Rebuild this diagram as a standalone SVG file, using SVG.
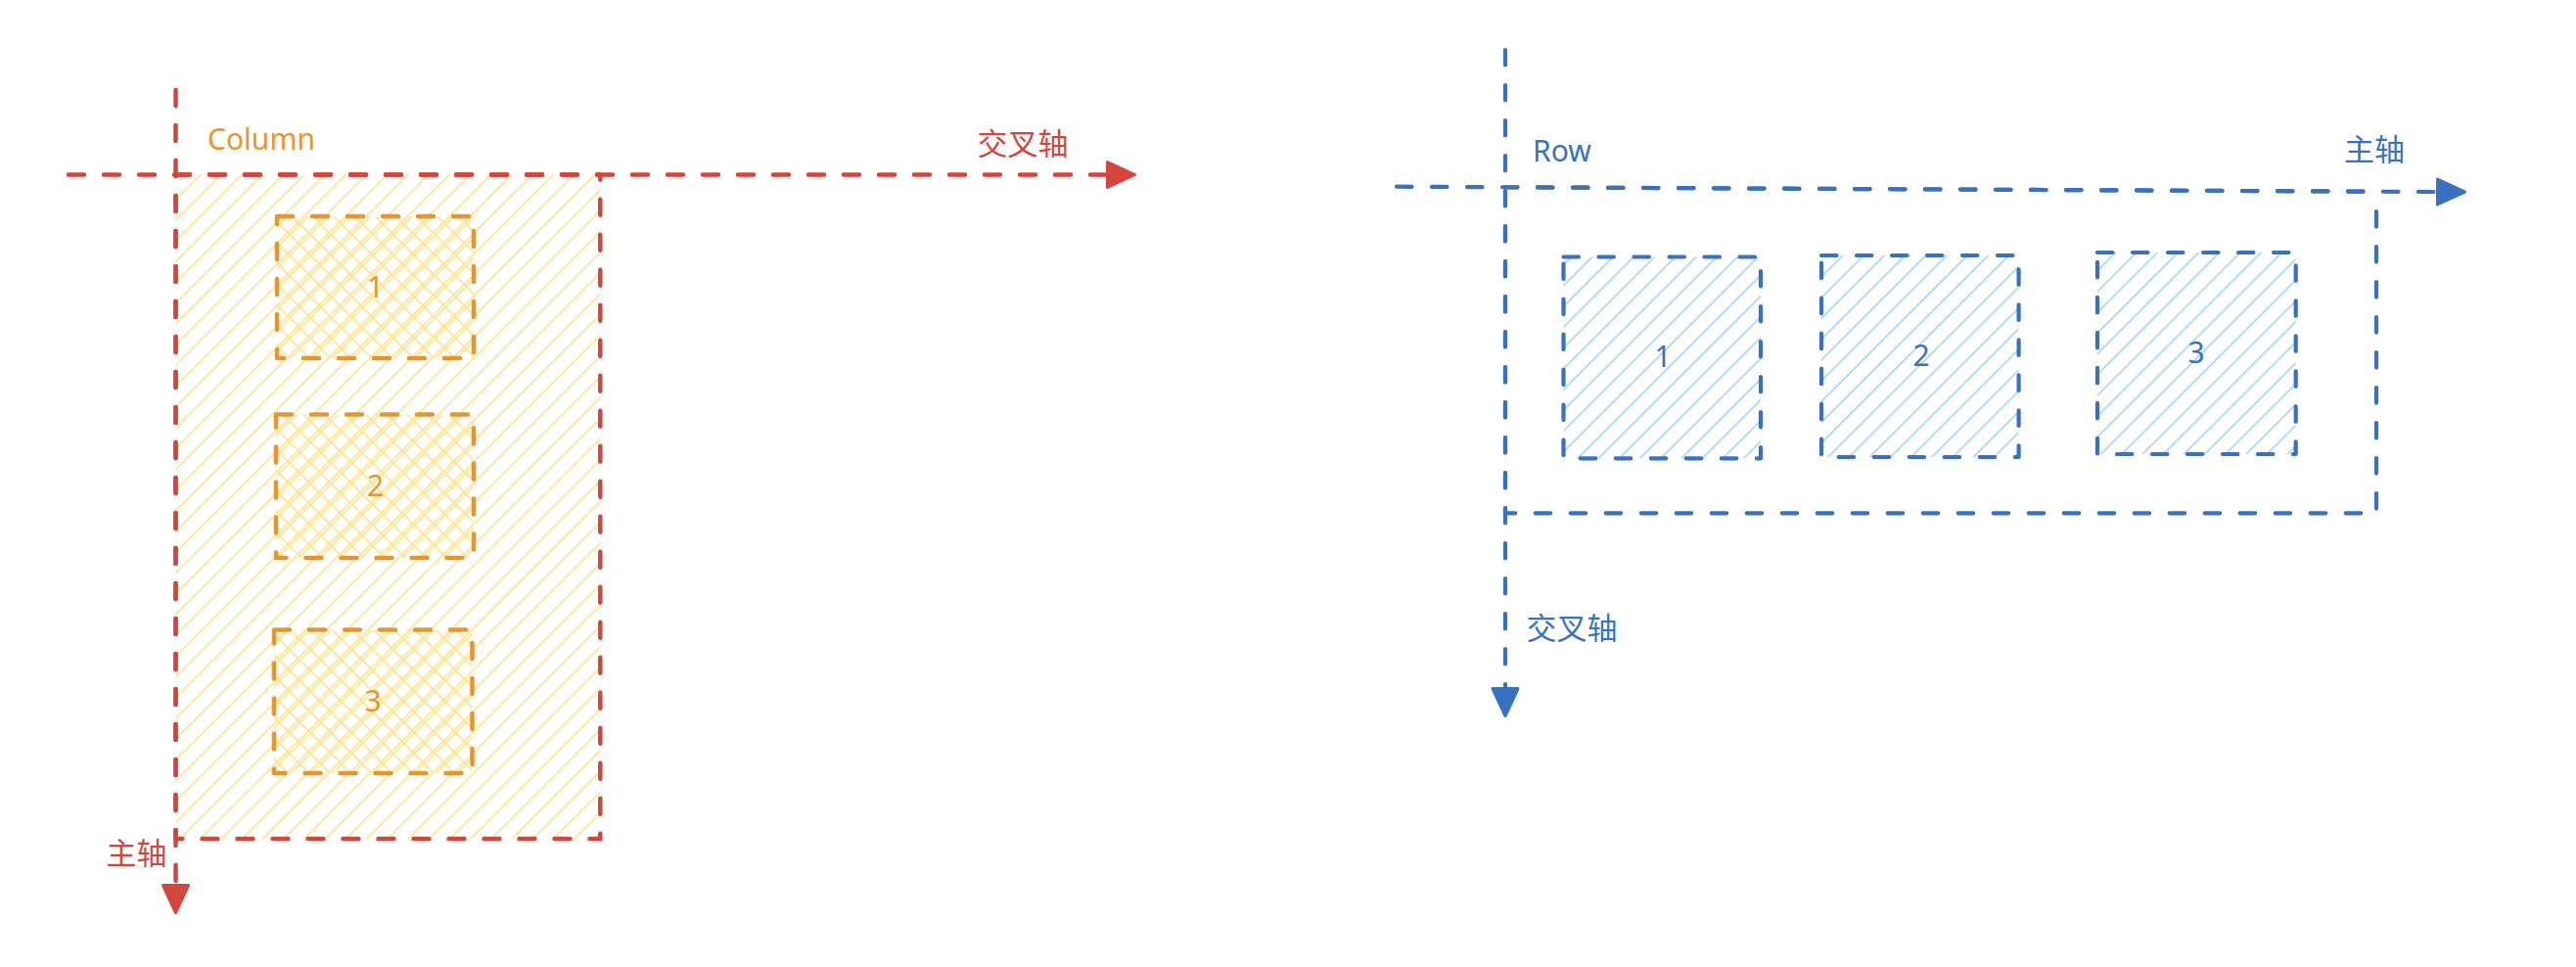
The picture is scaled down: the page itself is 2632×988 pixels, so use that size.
<svg xmlns="http://www.w3.org/2000/svg" width="2632" height="988" viewBox="0 0 2632 988">
  <style>
    .red { fill: none; stroke: #d4463c; stroke-width: 4.5; stroke-dasharray: 16 20; stroke-linecap: round; stroke-linejoin: round; }
    .orange { fill: none; stroke: #e8952f; stroke-width: 4.5; stroke-dasharray: 16 20; stroke-linecap: round; stroke-linejoin: round; }
    .blue { fill: none; stroke: #3871c1; stroke-width: 4.2; stroke-dasharray: 15.5 20.5; stroke-linecap: round; stroke-linejoin: round; }
    .t { font-family: "Noto Sans", "Noto Sans CJK SC", sans-serif; font-size: 30px; }
    .cjk { font-family: "Noto Sans CJK SC", "Noto Sans", sans-serif; font-size: 31px; }
    .num { text-anchor: middle; }
    .tr { fill: #d4463c; }
    .to { fill: #e8952f; }
    .tb { fill: #3871c1; }
  </style>
  <defs>
    <pattern id="hatchY" patternUnits="userSpaceOnUse" width="15" height="15" patternTransform="rotate(45)">
      <line x1="1" y1="0" x2="1" y2="15" stroke="#fde591" stroke-width="1.8"/>
    </pattern>
    <pattern id="crossY" patternUnits="userSpaceOnUse" width="15" height="15" patternTransform="translate(4 0) rotate(45)">
      <line x1="1" y1="0" x2="1" y2="15" stroke="#fde591" stroke-width="1.8"/>
      <line x1="0" y1="8" x2="15" y2="8" stroke="#fde591" stroke-width="1.8"/>
    </pattern>
    <pattern id="hatchB" patternUnits="userSpaceOnUse" width="15" height="15" patternTransform="rotate(45)">
      <line x1="1" y1="0" x2="1" y2="15" stroke="#a9d6fb" stroke-width="1.8"/>
    </pattern>
    <marker id="arrR" markerUnits="userSpaceOnUse" markerWidth="32" markerHeight="30" refX="0" refY="14.5" orient="auto" overflow="visible">
      <path d="M1.5,1.5 L29.5,14.5 L1.5,27.5 Z" fill="#d4463c" stroke="#d4463c" stroke-width="3" stroke-linejoin="round"/>
    </marker>
    <marker id="arrB" markerUnits="userSpaceOnUse" markerWidth="32" markerHeight="30" refX="0" refY="14.5" orient="auto" overflow="visible">
      <path d="M1.5,1.5 L29.5,14.5 L1.5,27.5 Z" fill="#3871c1" stroke="#3871c1" stroke-width="3" stroke-linejoin="round"/>
    </marker>
  </defs>

  <rect x="0" y="0" width="2632" height="988" fill="#ffffff"/>

  <!-- Column container -->
  <g id="column-container">
    <rect x="179.5" y="178.5" width="433.8" height="678.5" fill="url(#hatchY)"/>
    <path class="red" d="M179.5,178.5 H613.3" stroke-dashoffset="1.5"/>
    <path class="red" d="M179.5,178.5 V857 H613.3 V178.5" stroke-dashoffset="14.5"/>
    <text class="t to" x="212" y="153">Column</text>
  </g>

  <g id="col-item-1">
    <rect x="283" y="221" width="201" height="145" fill="url(#crossY)"/>
    <rect class="orange" x="283" y="221" width="201" height="145"/>
    <text class="t to num" x="383.5" y="304">1</text>
  </g>
  <g id="col-item-2">
    <rect x="282" y="423.5" width="202" height="146.5" fill="url(#crossY)"/>
    <rect class="orange" x="282" y="423.5" width="202" height="146.5"/>
    <text class="t to num" x="383.5" y="506.5">2</text>
  </g>
  <g id="col-item-3">
    <rect x="280" y="643.5" width="202.5" height="146.5" fill="url(#crossY)"/>
    <rect class="orange" x="280" y="643.5" width="202.5" height="146.5"/>
    <text class="t to num" x="381" y="727">3</text>
  </g>

  <!-- Row container -->
  <g id="row-container">
    <path class="blue" d="M1538,191.3 L2428,195.7" stroke-dashoffset="3"/>
    <path class="blue" d="M1538,191.3 V524.3 H2428 V195.7" stroke-dashoffset="32.3"/>
    <text class="t tb" x="1566" y="165">Row</text>
  </g>

  <g id="row-item-1">
    <rect x="1597.5" y="262.5" width="201.5" height="205.8" fill="url(#hatchB)"/>
    <rect class="blue" x="1597.5" y="262.5" width="201.5" height="205.8"/>
    <text class="t tb num" x="1699" y="374.5">1</text>
  </g>
  <g id="row-item-2">
    <rect x="1861" y="261" width="201.6" height="206" fill="url(#hatchB)"/>
    <rect class="blue" x="1861" y="261" width="201.6" height="206"/>
    <text class="t tb num" x="1963" y="374">2</text>
  </g>
  <g id="row-item-3">
    <rect x="2143" y="258" width="202.7" height="206" fill="url(#hatchB)"/>
    <rect class="blue" x="2143" y="258" width="202.7" height="206"/>
    <text class="t tb num" x="2244" y="371">3</text>
  </g>

  <!-- Connectors (axes) -->
  <g id="connectors">
    <path class="red" d="M70,178.5 H1130" marker-end="url(#arrR)"/>
    <path class="red" d="M179.5,92 V903" marker-end="url(#arrR)"/>
    <path class="blue" d="M1427,190.7 L2489,196" marker-end="url(#arrB)"/>
    <path class="blue" d="M1538,51 V702" marker-end="url(#arrB)"/>
  </g>

  <!-- Axis labels -->
  <g id="axis-labels">
    <text class="cjk tr" x="998.5" y="157.5">交叉轴</text>
    <text class="cjk tr" x="108.5" y="883">主轴</text>
    <text class="cjk tb" x="2395" y="163.5">主轴</text>
    <text class="cjk tb" x="1559.5" y="653">交叉轴</text>
  </g>
</svg>
